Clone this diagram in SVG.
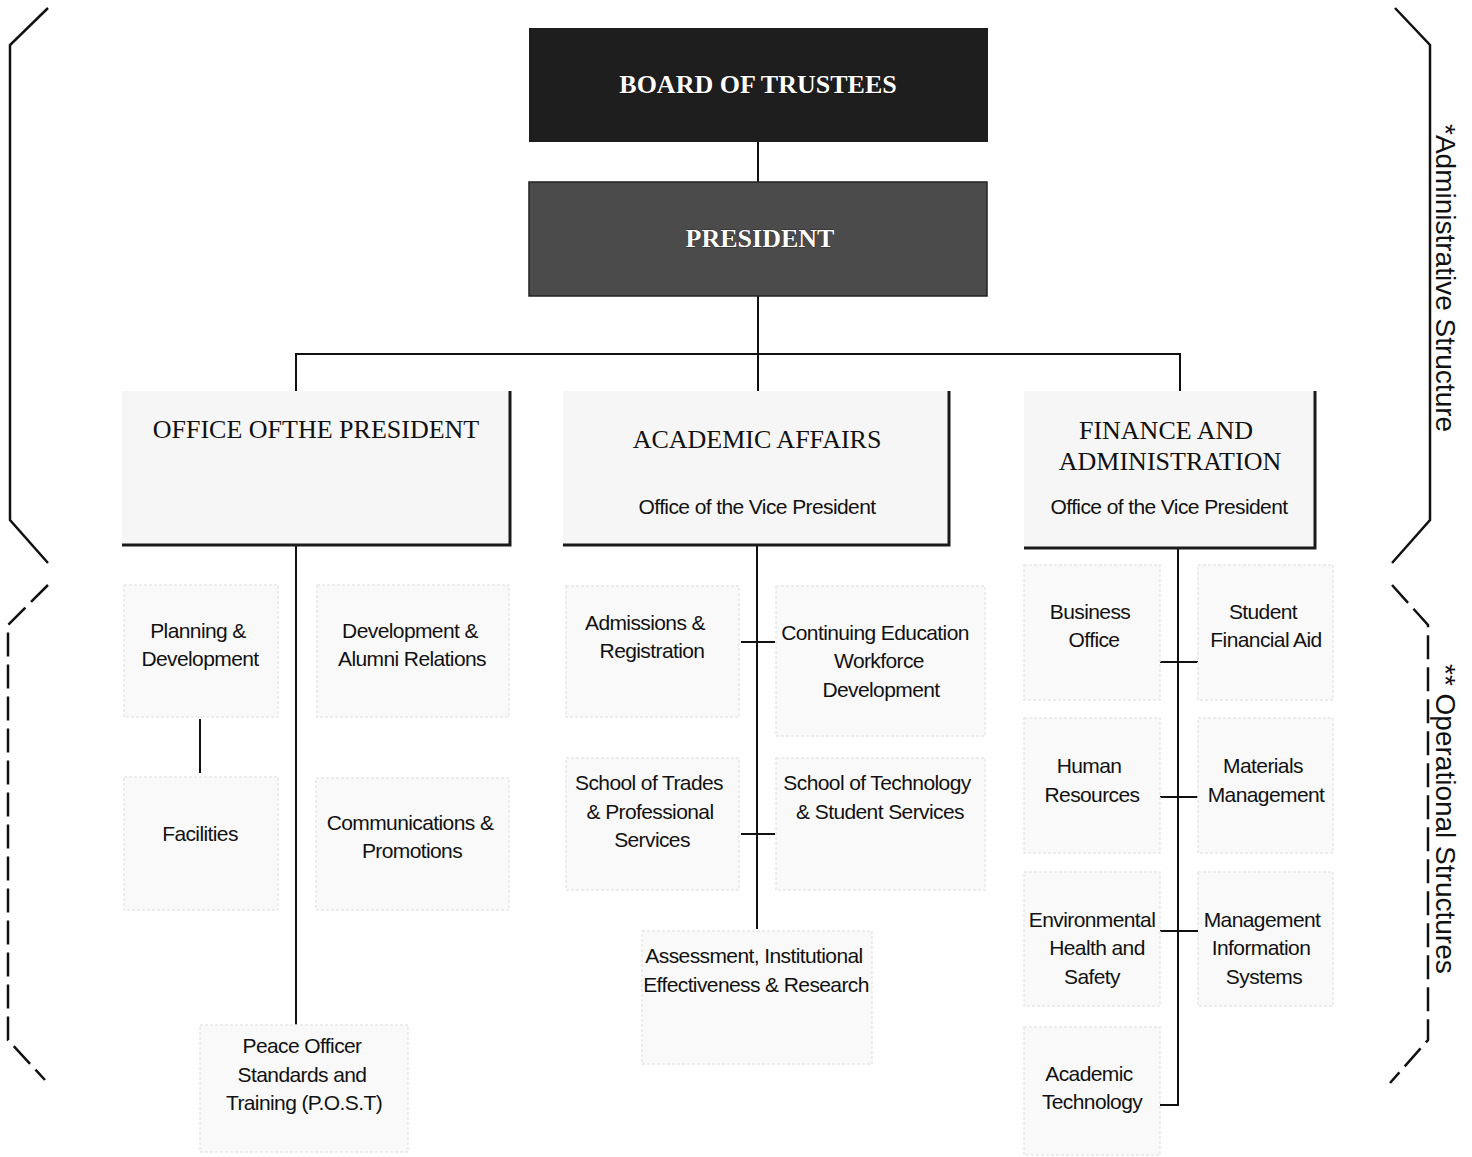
<svg xmlns="http://www.w3.org/2000/svg" width="1472" height="1157" viewBox="0 0 1472 1157">
<style>
.bg{fill:#ffffff}
.top{font-family:"Liberation Serif","Times New Roman",serif;font-weight:bold;font-size:26px;fill:#ffffff;text-anchor:middle;stroke:#000;stroke-width:0.6;paint-order:stroke}
.hd{font-family:"Liberation Serif","Times New Roman",serif;font-size:26px;fill:#111;text-anchor:middle}
.t{font-family:"Liberation Sans",Arial,sans-serif;font-size:21px;letter-spacing:-0.6px;fill:#111;text-anchor:middle}
.side{font-family:"Liberation Sans",Arial,sans-serif;font-size:28px;fill:#111}
.sub{fill:#f9f9f9;stroke:#e8e8e8;stroke-width:1.5;stroke-dasharray:3 2}
.hbox{fill:#f6f6f6}
.shadow{fill:none;stroke:#1a1a1a;stroke-width:3}
.ln{fill:none;stroke:#111;stroke-width:2}
.brace{fill:none;stroke:#111;stroke-width:2.5}
.dbrace{fill:none;stroke:#111;stroke-width:2.5;stroke-dasharray:24 8}
</style>
<rect class="bg" x="0" y="0" width="1472" height="1157"/>

<g id="braces">
<polyline class="brace" points="48,8 10,45 10,520 48,563"/>
<polyline class="brace" points="1395,8 1430,45 1430,520 1392,563"/>
<polyline class="dbrace" points="48,585 8,625 8,1040 45,1080"/>
<polyline class="dbrace" points="1392,585 1428,625 1428,1040 1390,1083"/>
</g>
<g id="labels">
<text class="side" transform="translate(1436,124) rotate(90)">*Administrative Structure</text>
<text class="side" transform="translate(1436,664) rotate(90)">** Operational Structures</text>
</g>

<g id="connectors">
<line class="ln" x1="758" y1="142" x2="758" y2="182"/>
<line class="ln" x1="758" y1="296" x2="758" y2="391"/>
<polyline class="ln" points="296,391 296,354 1180,354 1180,391"/>
<line class="ln" x1="296" y1="545" x2="296" y2="1026"/>
<line class="ln" x1="200" y1="719" x2="200" y2="773"/>
<line class="ln" x1="757" y1="545" x2="757" y2="929"/>
<line class="ln" x1="741" y1="642" x2="775" y2="642"/>
<line class="ln" x1="741" y1="834" x2="775" y2="834"/>
<polyline class="ln" points="1178,548 1178,1105 1160,1105"/>
<line class="ln" x1="1160" y1="662" x2="1198" y2="662"/>
<line class="ln" x1="1160" y1="797" x2="1198" y2="797"/>
<line class="ln" x1="1160" y1="931" x2="1198" y2="931"/>
</g>

<g id="board">
<rect x="529" y="28" width="459" height="114" fill="#1e1e1e"/>
<text class="top" x="758" y="93">BOARD OF TRUSTEES</text>
</g>
<g id="president">
<rect x="529" y="182" width="458" height="114" fill="#4b4b4b" stroke="#222" stroke-width="1.5"/>
<text class="top" x="760" y="247">PRESIDENT</text>
</g>

<g id="office-president">
<rect class="hbox" x="122" y="391" width="388" height="154"/>
<polyline class="shadow" points="510,391 510,545 122,545"/>
<text class="hd" x="316" y="438">OFFICE OFTHE PRESIDENT</text>
</g>
<g id="academic-affairs">
<rect class="hbox" x="563" y="391" width="386" height="154"/>
<polyline class="shadow" points="949,391 949,545 563,545"/>
<text class="hd" x="757" y="448">ACADEMIC AFFAIRS</text>
<text class="t" x="757" y="514">Office of the Vice President</text>
</g>
<g id="finance-admin">
<rect class="hbox" x="1024" y="391" width="291" height="157"/>
<polyline class="shadow" points="1315,391 1315,548 1024,548"/>
<text class="hd" x="1166" y="439">FINANCE AND</text>
<text class="hd" x="1170" y="470">ADMINISTRATION</text>
<text class="t" x="1169" y="514">Office of the Vice President</text>
</g>

<g id="planning">
<rect class="sub" x="124" y="585" width="154" height="132"/>
<text class="t" x="198" y="638">Planning &amp;</text>
<text class="t" x="200" y="666">Development</text>
</g>
<g id="dev-alumni">
<rect class="sub" x="317" y="585" width="192" height="132"/>
<text class="t" x="410" y="638">Development &amp;</text>
<text class="t" x="412" y="666">Alumni Relations</text>
</g>
<g id="facilities">
<rect class="sub" x="124" y="777" width="154" height="133"/>
<text class="t" x="200" y="841">Facilities</text>
</g>
<g id="communications">
<rect class="sub" x="316" y="778" width="193" height="132"/>
<text class="t" x="410" y="830">Communications &amp;</text>
<text class="t" x="412" y="858">Promotions</text>
</g>
<g id="post">
<rect class="sub" x="200" y="1025" width="208" height="127"/>
<text class="t" x="302" y="1053">Peace Officer</text>
<text class="t" x="302" y="1082">Standards and</text>
<text class="t" x="304" y="1110">Training (P.O.S.T)</text>
</g>

<g id="admissions">
<rect class="sub" x="566" y="586" width="173" height="131"/>
<text class="t" x="645" y="630">Admissions &amp;</text>
<text class="t" x="652" y="658">Registration</text>
</g>
<g id="continuing-ed">
<rect class="sub" x="776" y="586" width="209" height="150"/>
<text class="t" x="875" y="640">Continuing Education</text>
<text class="t" x="879" y="668">Workforce</text>
<text class="t" x="881" y="697">Development</text>
</g>
<g id="school-trades">
<rect class="sub" x="566" y="758" width="173" height="132"/>
<text class="t" x="649" y="790">School of Trades</text>
<text class="t" x="650" y="819">&amp; Professional</text>
<text class="t" x="652" y="847">Services</text>
</g>
<g id="school-tech">
<rect class="sub" x="776" y="758" width="209" height="132"/>
<text class="t" x="877" y="790">School of Technology</text>
<text class="t" x="880" y="819">&amp; Student Services</text>
</g>
<g id="assessment">
<rect class="sub" x="642" y="931" width="230" height="133"/>
<text class="t" x="754" y="963">Assessment, Institutional</text>
<text class="t" x="756" y="992">Effectiveness &amp; Research</text>
</g>

<g id="business-office">
<rect class="sub" x="1024" y="565" width="136" height="135"/>
<text class="t" x="1090" y="619">Business</text>
<text class="t" x="1094" y="647">Office</text>
</g>
<g id="financial-aid">
<rect class="sub" x="1198" y="565" width="135" height="135"/>
<text class="t" x="1263" y="619">Student</text>
<text class="t" x="1266" y="647">Financial Aid</text>
</g>
<g id="human-resources">
<rect class="sub" x="1024" y="718" width="136" height="135"/>
<text class="t" x="1089" y="773">Human</text>
<text class="t" x="1092" y="802">Resources</text>
</g>
<g id="materials">
<rect class="sub" x="1198" y="718" width="135" height="135"/>
<text class="t" x="1263" y="773">Materials</text>
<text class="t" x="1266" y="802">Management</text>
</g>
<g id="env-health">
<rect class="sub" x="1024" y="872" width="136" height="134"/>
<text class="t" x="1092" y="927">Environmental</text>
<text class="t" x="1097" y="955">Health and</text>
<text class="t" x="1092" y="984">Safety</text>
</g>
<g id="mis">
<rect class="sub" x="1198" y="872" width="135" height="134"/>
<text class="t" x="1262" y="927">Management</text>
<text class="t" x="1261" y="955">Information</text>
<text class="t" x="1264" y="984">Systems</text>
</g>
<g id="academic-tech">
<rect class="sub" x="1024" y="1027" width="136" height="128"/>
<text class="t" x="1089" y="1081">Academic</text>
<text class="t" x="1092" y="1109">Technology</text>
</g>
</svg>
